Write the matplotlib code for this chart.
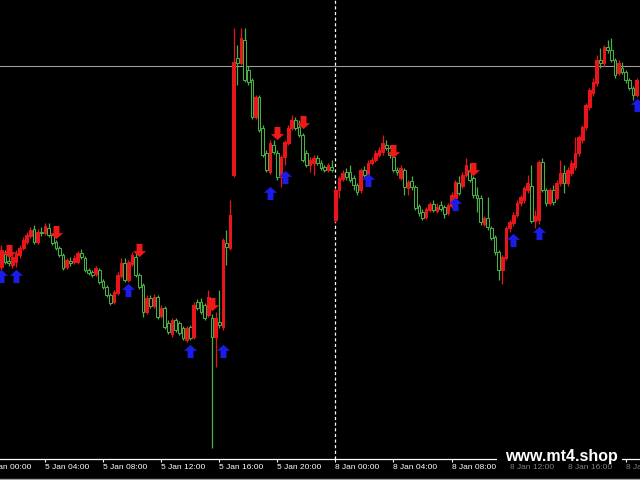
import numpy as np
import pandas as pd
import matplotlib
matplotlib.use("Agg")
import matplotlib.pyplot as plt
from matplotlib.patches import Rectangle
from matplotlib.lines import Line2D
from matplotlib.path import Path

# --------------------------------------------------------------
# M15 bars, Fri 5 Jan 01:00 -> Mon 8 Jan 20:45 (weekend skipped)
# --------------------------------------------------------------
times = list(pd.date_range("2018-01-05 01:00", "2018-01-05 23:45", freq="15min")) + \
        list(pd.date_range("2018-01-08 00:00", "2018-01-08 20:45", freq="15min"))

opens = [213, 226, 219, 215, 218, 225, 232, 238, 244, 251,
         238, 248, 247, 252, 245, 238, 232, 225, 213, 219,
         218, 218, 227, 222, 210, 208, 206, 210, 199, 193,
         185, 178, 187, 204, 217, 200, 216, 223, 205, 195,
         168, 182, 174, 183, 164, 172, 157, 146, 160, 157,
         152, 140, 153, 143, 178, 178, 175, 165, 162, 143,
         158, 153, 237, 232, 305, 422, 417, 440, 410, 400,
         363, 383, 352, 327, 308, 335, 327, 303, 323, 337,
         352, 360, 353, 345, 327, 315, 317, 322, 317, 313,
         310, 313,
         260, 290, 301, 308, 308, 302, 295, 290, 310, 306,
         317, 320, 325, 328, 335, 332, 323, 310, 302, 310,
         292, 299, 293, 274, 268, 263, 270, 276, 269, 275,
         273, 267, 274, 282, 297, 294, 305, 310, 302, 285,
         282, 256, 262, 252, 243, 228, 210, 222, 252, 257,
         265, 277, 280, 290, 294, 259, 260, 318, 290, 277,
         290, 282, 297, 307, 297, 307, 313, 327, 340, 353,
         373, 387, 397, 420, 417, 433, 430, 420, 407, 412,
         408, 400, 392, 385]

closes = [230, 218, 217, 223, 227, 232, 240, 245, 250, 238,
          248, 247, 254, 245, 237, 232, 225, 212, 220, 217,
          222, 227, 223, 210, 207, 205, 212, 198, 193, 185,
          177, 188, 205, 217, 200, 218, 225, 205, 193, 168,
          182, 174, 183, 163, 172, 153, 148, 160, 150, 147,
          142, 152, 142, 175, 172, 168, 162, 183, 143, 162,
          155, 240, 233, 265, 418, 417, 442, 400, 398, 363,
          383, 350, 325, 310, 337, 328, 303, 323, 338, 352,
          360, 352, 345, 320, 315, 320, 322, 317, 312, 310,
          315, 310,
          290, 302, 307, 303, 300, 295, 288, 310, 305, 317,
          320, 327, 330, 337, 332, 325, 310, 308, 312, 293,
          298, 293, 272, 267, 262, 271, 276, 270, 273, 271,
          266, 275, 285, 298, 287, 305, 315, 300, 285, 282,
          258, 262, 253, 242, 228, 210, 223, 252, 258, 265,
          277, 283, 292, 297, 259, 264, 318, 290, 277, 290,
          278, 297, 307, 297, 310, 317, 327, 343, 353, 375,
          390, 398, 420, 417, 433, 430, 420, 405, 417, 408,
          400, 392, 385, 400]

highs = [235, 230, 225, 226, 230, 235, 243, 248, 253, 255,
         251, 253, 257, 257, 247, 240, 234, 227, 222, 223,
         225, 229, 231, 224, 212, 210, 214, 212, 201, 195,
         187, 190, 208, 222, 222, 220, 228, 227, 207, 197,
         185, 185, 186, 185, 175, 174, 160, 162, 162, 159,
         154, 154, 155, 178, 181, 182, 177, 190, 166, 168,
         190, 242, 250, 280, 452, 435, 452, 452, 414, 402,
         385, 385, 355, 330, 340, 340, 330, 325, 340, 355,
         365, 363, 360, 347, 330, 323, 325, 325, 320, 315,
         317, 320,
         292, 304, 310, 312, 315, 305, 297, 312, 314, 320,
         323, 330, 333, 345, 340, 335, 325, 313, 315, 312,
         300, 304, 295, 276, 271, 273, 278, 280, 277, 279,
         275, 277, 288, 300, 304, 308, 322, 317, 304, 293,
         285, 264, 283, 254, 245, 230, 225, 254, 260, 268,
         280, 285, 294, 305, 315, 270, 320, 322, 292, 292,
         295, 300, 320, 315, 313, 320, 343, 345, 355, 377,
         392, 402, 425, 432, 435, 440, 442, 422, 420, 418,
         410, 402, 394, 402]

lows = [210, 216, 214, 212, 213, 222, 230, 236, 242, 236,
        236, 244, 245, 243, 235, 230, 223, 210, 211, 214,
        216, 216, 221, 208, 205, 203, 204, 196, 191, 183,
        175, 176, 185, 202, 198, 198, 214, 203, 191, 163,
        166, 172, 172, 161, 162, 151, 146, 143, 148, 145,
        140, 138, 140, 141, 170, 166, 160, 163, 32, 113,
        152, 150, 215, 230, 303, 395, 415, 398, 395, 361,
        361, 348, 323, 308, 306, 326, 300, 293, 315, 335,
        350, 350, 343, 318, 313, 308, 305, 315, 310, 308,
        308, 308,
        258, 282, 299, 300, 298, 290, 285, 287, 303, 306,
        315, 318, 323, 325, 330, 322, 308, 305, 300, 285,
        285, 290, 270, 264, 260, 261, 268, 268, 267, 269,
        262, 265, 272, 281, 285, 292, 303, 298, 282, 268,
        255, 254, 250, 240, 225, 200, 196, 220, 248, 254,
        263, 274, 277, 287, 257, 252, 256, 288, 274, 275,
        275, 280, 294, 287, 294, 304, 310, 324, 337, 350,
        370, 384, 394, 412, 414, 427, 418, 402, 405, 406,
        397, 390, 380, 383]

# signal arrows (bar index, price level)
sell_bars = [2, 15, 38, 58, 76, 83, 108, 130]
sell_levels = [229, 248, 230, 176, 347, 358, 329, 311]
buy_bars = [0, 4, 35, 52, 61, 74, 78, 101, 125, 141, 148, 175]
buy_levels = [204, 204, 190, 129, 129, 287, 303, 300, 276, 240, 247, 375]

hline_level = 414

BULL = "#e8161b"
BEAR = "#48b044"

plt.rcParams["font.family"] = ["Liberation Sans", "DejaVu Sans"]

fig = plt.figure(figsize=(6.4, 4.8), dpi=100, facecolor="black")
ax = fig.add_axes([0, 21 / 480, 1, 459 / 480], facecolor="black")

o = np.array(opens)
c = np.array(closes)
idx = np.arange(len(times))
up = c > o

# wicks then bodies
ax.vlines(idx, lows, highs, colors=np.where(up, BULL, BEAR), lw=0.9, zorder=2)
for i in idx:
    lo, hi = min(o[i], c[i]), max(o[i], c[i])
    h = max(hi - lo, 0.8)
    if up[i]:
        fc, ec = BULL, BULL
    else:
        fc, ec = "black", BEAR
    ax.add_patch(Rectangle((i - 0.37, lo), 0.74, h, facecolor=fc, edgecolor=ec,
                           lw=0.75, zorder=3))

# arrow markers (thick wingdings-like)
up_arrow = Path([(0, 1), (1, 0.1), (0.45, 0.1), (0.45, -1), (-0.45, -1),
                 (-0.45, 0.1), (-1, 0.1), (0, 1)], closed=True)
down_arrow = Path(up_arrow.vertices * [1, -1], closed=True)
ax.plot(buy_bars, buy_levels, ls="none", marker=up_arrow, ms=9.5,
        color="#1c1ce8", mew=0, zorder=4)
ax.plot(sell_bars, sell_levels, ls="none", marker=down_arrow, ms=9.5,
        color="#ee1a1a", mew=0, zorder=4)

# price line and day separator
ax.axhline(hline_level, color="#9c9c9c", lw=0.8, zorder=1)
sep = times.index(pd.Timestamp("2018-01-08 00:00"))
ax.axvline(sep, color="white", lw=0.9, ls=(0, (2.5, 2)), zorder=1)

ax.set_xlim(-0.39, 175.92)
ax.set_ylim(21, 480)

# time axis, every 4 hours, labels start at tick
tick_pos = [i for i, t in enumerate(times) if t.minute == 0 and t.hour % 4 == 0]
tick_lbl = [f"{times[i].day} {times[i]:%b %H:%M}" for i in tick_pos]
ax.set_xticks(tick_pos)
ax.set_xticklabels(tick_lbl, ha="left")
ax.set_yticks([])
ax.tick_params(axis="x", colors="white", length=2.2, width=0.8, pad=1.2,
               labelsize=6, direction="out")
for s in ["top", "left", "right"]:
    ax.spines[s].set_visible(False)
ax.spines["bottom"].set_color("white")
ax.spines["bottom"].set_linewidth(0.9)

# 5 Jan 00:00 label sits left of the first bar
first_pos = -(times[0] - pd.Timestamp("2018-01-05 00:00")) / pd.Timedelta("15min")
ax.annotate("5 Jan 00:00", xy=(first_pos, 0), xycoords=("data", "axes fraction"),
            xytext=(0, -3.4), textcoords="offset points", ha="left", va="top",
            color="white", fontsize=6, annotation_clip=False)

# watermark
fig.add_artist(Rectangle((497 / 640, 17 / 480), 125 / 640, 18 / 480,
                         transform=fig.transFigure, facecolor="black",
                         edgecolor="none", zorder=5))
fig.add_artist(Rectangle((497 / 640, 3 / 480), 143 / 640, 14 / 480,
                         transform=fig.transFigure, facecolor="black",
                         edgecolor="none", alpha=0.5, zorder=5))
fig.text(505 / 640, 23 / 480, "www.mt4.shop", color="white", fontsize=11.5,
         fontweight="bold", ha="left", va="center", zorder=6)
fig.add_artist(Line2D([0, 1], [1.5 / 480, 1.5 / 480], transform=fig.transFigure,
                      color="#a0a0a0", lw=1))

fig.savefig("out.png", dpi=100, facecolor="black")
